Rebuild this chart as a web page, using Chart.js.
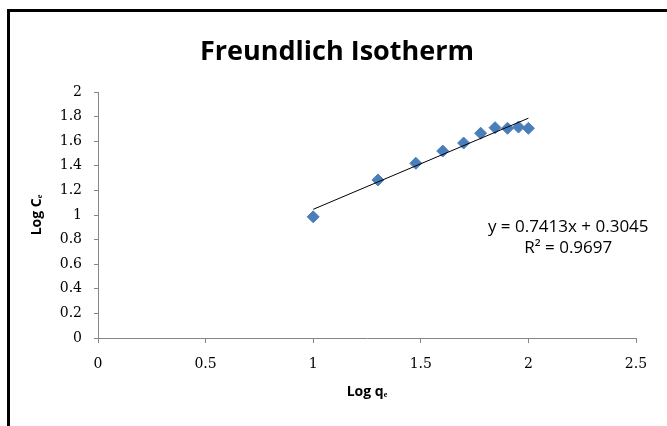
<!DOCTYPE html>
<html><head><meta charset="utf-8">
<script src="https://cdn.jsdelivr.net/npm/chart.js@4/dist/chart.umd.min.js"></script>
<style>html,body{margin:0;padding:0;background:#fff}#wrap{width:667px;height:426px;position:relative}</style>
</head><body><div id="wrap"><canvas id="c" width="667" height="426"></canvas></div>
<script>
// Data
const logQe = [1.000, 1.301, 1.477, 1.602, 1.699, 1.778, 1.845, 1.903, 1.954, 2.000];
const logCe = [0.985, 1.285, 1.420, 1.520, 1.585, 1.665, 1.710, 1.705, 1.715, 1.705];
const trendX = [1.0, 2.0];
const trendY = [1.046, 1.787];
const xTicks = [0, 0.5, 1, 1.5, 2, 2.5];
const yTicks = [0, 0.2, 0.4, 0.6, 0.8, 1, 1.2, 1.4, 1.6, 1.8, 2];
const titleText = 'Freundlich Isotherm';
const xTitle = 'Log qₑ';
const yTitle = 'Log Cₑ';
const equationLines = ['y = 0.7413x + 0.3045', 'R² = 0.9697'];
const equationAt = [[2.185, 0.90], [2.185, 0.73]];

const axisGray = '#868686';
const tickFont = {family: 'DejaVu Serif', size: 14};
const fmt = v => String(v);

const extras = {
  id: 'extras',
  afterDraw(chart) {
    const ctx = chart.ctx;
    ctx.save();
    // outer frame
    ctx.fillStyle = '#000';
    ctx.fillRect(7, 9, 3, 426);
    ctx.fillRect(7, 9, 667, 3);
    // trendline equation
    const xs = chart.scales.x, ys = chart.scales.y;
    ctx.font = '17px "Open Sans"';
    ctx.fillStyle = '#000';
    ctx.textAlign = 'center';
    ctx.textBaseline = 'middle';
    equationLines.forEach((t, i) => {
      ctx.fillText(t, xs.getPixelForValue(equationAt[i][0]), ys.getPixelForValue(equationAt[i][1]));
    });
    ctx.restore();
  }
};

new Chart(document.getElementById('c'), {
  type: 'scatter',
  data: {
    datasets: [
      {
        label: 'Log Ce',
        data: logQe.map((x, i) => ({x, y: logCe[i]})),
        pointStyle: 'rectRot',
        pointRadius: 6,
        pointBackgroundColor: '#4a7ebb',
        pointBorderColor: '#4a7ebb',
        pointBorderWidth: 1,
        order: 1
      },
      {
        label: 'Linear (Log Ce)',
        data: trendX.map((x, i) => ({x, y: trendY[i]})),
        showLine: true,
        borderColor: '#000',
        borderWidth: 1,
        pointRadius: 0,
        order: 0
      }
    ]
  },
  options: {
    responsive: false,
    devicePixelRatio: 1,
    animation: false,
    layout: {padding: {left: 7, right: 0, top: 0, bottom: 0}},
    plugins: {
      legend: {display: false},
      tooltip: {enabled: false},
      title: {
        display: true,
        text: titleText,
        color: '#000',
        font: {family: 'Open Sans', size: 27, weight: 'bold'},
        padding: {top: 36, bottom: 23.6}
      }
    },
    scales: {
      x: {
        type: 'linear', min: 0, max: 2.5,
        afterBuildTicks: s => { s.ticks = xTicks.map(v => ({value: v})); },
        afterFit: s => { s.height = 88; },
        ticks: {color: '#000', font: tickFont, padding: 13, callback: fmt},
        grid: {drawOnChartArea: false, drawTicks: true, tickLength: 5, color: axisGray},
        border: {color: axisGray, width: 1},
        title: {display: true, text: xTitle, color: '#000', font: {family: 'Open Sans', size: 14, weight: 'bold'}, padding: {top: 0, bottom: 26}}
      },
      y: {
        type: 'linear', min: 0, max: 2,
        afterBuildTicks: s => { s.ticks = yTicks.map(v => ({value: v})); },
        afterFit: s => { s.width = 91; },
        ticks: {color: '#000', font: tickFont, padding: 12, callback: fmt},
        grid: {drawOnChartArea: false, drawTicks: true, tickLength: 4, color: axisGray},
        border: {color: axisGray, width: 1},
        title: {display: true, text: yTitle, color: '#000', font: {family: 'Open Sans', size: 14, weight: 'bold'}, padding: {top: 22, bottom: 0}}
      },
      y2: {
        position: 'right', display: true,
        afterFit: s => { s.width = 31; },
        ticks: {display: false},
        grid: {display: false, drawTicks: false},
        border: {display: false}
      }
    }
  },
  plugins: [extras]
});
</script>
</body></html>
